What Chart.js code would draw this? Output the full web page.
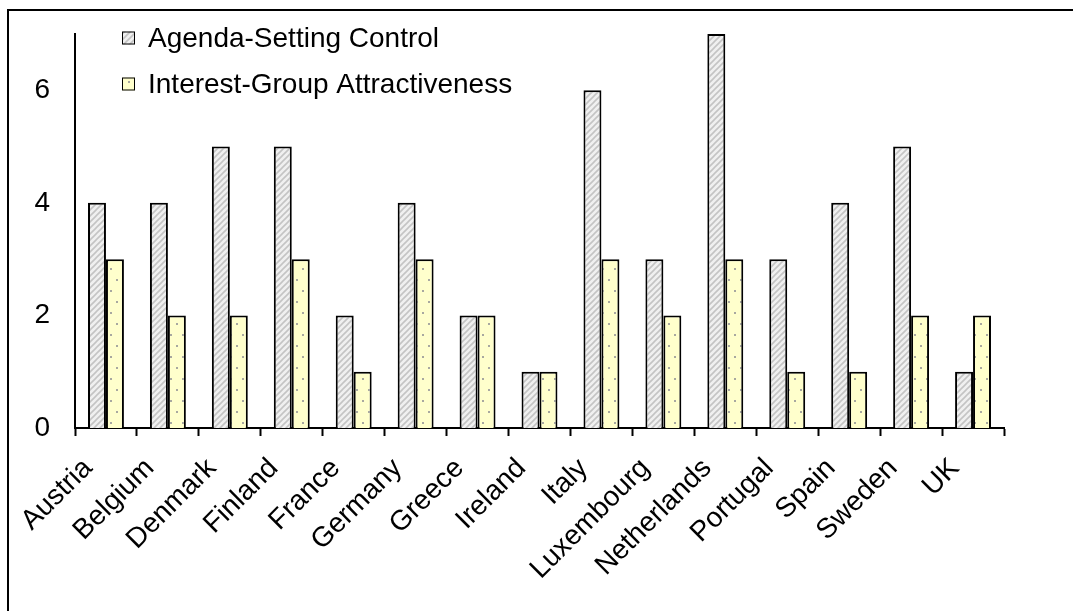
<!DOCTYPE html>
<html>
<head>
<meta charset="utf-8">
<script src="https://cdn.jsdelivr.net/npm/chart.js@4/dist/chart.umd.min.js"></script>
<style>
  html, body { margin: 0; padding: 0; background: #fff; }
  #wrap { width: 1073px; height: 611px; position: relative; }
</style>
</head>
<body>
<div id="wrap"><canvas id="c" width="1073" height="611"></canvas></div>
<script>
// Country categories along the x axis
const countries = ['Austria', 'Belgium', 'Denmark', 'Finland', 'France', 'Germany', 'Greece',
  'Ireland', 'Italy', 'Luxembourg', 'Netherlands', 'Portugal', 'Spain', 'Sweden', 'UK'];

// Series values
const agendaSettingControl = [4, 4, 5, 5, 2, 4, 2, 1, 6, 3, 7, 3, 4, 5, 1];
const interestGroupAttractiveness = [3, 2, 2, 3, 1, 3, 2, 1, 3, 2, 3, 1, 1, 2, 2];

// Series names
const seriesNames = ['Agenda-Setting Control', 'Interest-Group Attractiveness'];

// Y axis range and labelled tick values
const yMin = 0;
const yMax = 7;
const yTickValues = [0, 2, 4, 6];

const FONT = '"Liberation Sans", Arial, sans-serif';

// Light grey fill with diagonal hatching
function hatchPattern() {
  const p = document.createElement('canvas');
  p.width = 6; p.height = 6;
  const g = p.getContext('2d');
  g.fillStyle = '#f0f0f0';
  g.fillRect(0, 0, 6, 6);
  g.strokeStyle = '#c4c4c4';
  g.lineWidth = 1.6;
  g.beginPath();
  g.moveTo(-1, 7); g.lineTo(7, -1);
  g.moveTo(-4, 4); g.lineTo(4, -4);
  g.moveTo(2, 10); g.lineTo(10, 2);
  g.stroke();
  return g.createPattern(p, 'repeat');
}

// Pale yellow fill with sparse grey dots
function dotPattern() {
  const p = document.createElement('canvas');
  p.width = 12; p.height = 22;
  const g = p.getContext('2d');
  g.fillStyle = '#ffffcc';
  g.fillRect(0, 0, 12, 22);
  g.fillStyle = '#a8a8a0';
  g.fillRect(2, 4, 2, 2);
  g.fillRect(8, 15, 2, 2);
  return g.createPattern(p, 'repeat');
}

const ctx = document.getElementById('c').getContext('2d');
const fills = [hatchPattern(), dotPattern()];

// Outer frame around the figure
const framePlugin = {
  id: 'frame',
  beforeDraw(chart) {
    const c = chart.ctx;
    c.save();
    c.fillStyle = '#fff';
    c.fillRect(0, 0, chart.width, chart.height);
    c.strokeStyle = '#000';
    c.lineWidth = 2;
    c.strokeRect(8, 10, chart.width + 20, chart.height + 20);
    c.restore();
  }
};

// Legend drawn inside the plot area, top left
const insideLegend = {
  id: 'insideLegend',
  afterDraw(chart) {
    const c = chart.ctx;
    c.save();
    c.font = '28px ' + FONT;
    c.textBaseline = 'middle';
    c.textAlign = 'left';
    const x0 = 122, rows = [38, 84], box = 13;
    chart.data.datasets.forEach((ds, i) => {
      const y = rows[i];
      c.fillStyle = ds.backgroundColor;
      c.fillRect(x0, y - box / 2, box, box);
      c.strokeStyle = '#000';
      c.lineWidth = 1;
      c.strokeRect(x0 + 0.5, y - box / 2 + 0.5, box - 1, box - 1);
      c.fillStyle = '#000';
      c.fillText(ds.label, x0 + 26, y + 1);
    });
    c.restore();
  }
};

new Chart(ctx, {
  type: 'bar',
  data: {
    labels: countries,
    datasets: [
      {
        label: seriesNames[0],
        data: agendaSettingControl,
        backgroundColor: fills[0],
        borderColor: '#000',
        borderWidth: 2
      },
      {
        label: seriesNames[1],
        data: interestGroupAttractiveness,
        backgroundColor: fills[1],
        borderColor: '#000',
        borderWidth: 2
      }
    ]
  },
  options: {
    responsive: false,
    animation: false,
    layout: { padding: { left: 0, right: 69, top: 34, bottom: 0 } },
    datasets: {
      bar: { categoryPercentage: 0.58, barPercentage: 1.0 }
    },
    plugins: {
      legend: { display: false },
      tooltip: { enabled: false }
    },
    scales: {
      x: {
        offset: true,
        grid: {
          display: true,
          offset: true,
          drawOnChartArea: false,
          drawTicks: true,
          tickLength: 8,
          tickColor: '#000',
          tickWidth: 2
        },
        border: { display: true, color: '#000', width: 2 },
        ticks: {
          color: '#000',
          font: { family: FONT, size: 28 },
          minRotation: 45,
          maxRotation: 45,
          autoSkip: false,
          padding: 16,
          labelOffset: -18
        },
        afterFit(scale) {
          scale.height = 611 - 428;
          scale.paddingLeft = 0;
          scale.paddingRight = 0;
        }
      },
      y: {
        min: yMin,
        max: yMax,
        bounds: 'data',
        grid: { display: false, drawTicks: false },
        border: { display: true, color: '#000', width: 2 },
        ticks: {
          color: '#000',
          font: { family: FONT, size: 28 },
          padding: 25
        },
        afterBuildTicks(scale) {
          scale.ticks = yTickValues.map(v => ({ value: v }));
        },
        afterFit(scale) {
          scale.width = 75;
          scale.paddingTop = 0;
          scale.paddingBottom = 0;
        }
      }
    }
  },
  plugins: [framePlugin, insideLegend]
});
</script>
</body>
</html>
